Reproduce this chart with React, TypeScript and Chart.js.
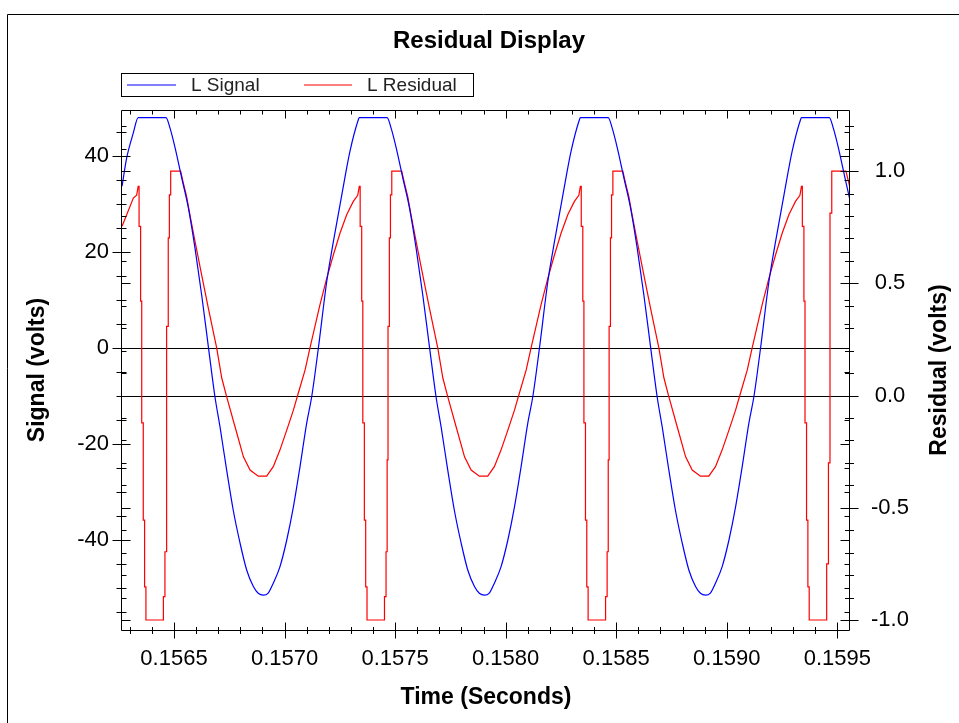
import { useEffect, useRef } from "react";
import { Chart, registerables } from "chart.js";

Chart.register(...registerables);

// ---- data (time offsets in microseconds from 0.1565 s) ----
const TIME_BASE = 0.1565;

const signalTimeUs = [
  -235, -214, -184, -162, -36, -18, 5, 35, 65, 95, 125, 155, 185, 208, 238, 268, 299, 329, 359, 381, 404, 427,
  449, 479, 510, 540, 570, 600, 623, 653, 691, 721, 759, 796, 834, 838, 964,
  982, 1005, 1035, 1065, 1095, 1125, 1155, 1185, 1208, 1238, 1268, 1299, 1329, 1359, 1381, 1404, 1427, 1449,
  1479, 1510, 1540, 1570, 1600, 1623, 1653, 1691, 1721, 1759, 1796, 1834, 1838, 1964,
  1982, 2005, 2035, 2065, 2095, 2125, 2155, 2185, 2208, 2238, 2268, 2299, 2329, 2359, 2381, 2404, 2427, 2449,
  2479, 2510, 2540, 2570, 2600, 2623, 2653, 2691, 2721, 2759, 2796, 2834, 2838, 2964,
  2982, 3005, 3035, 3065,
];

const signalVolts = [
  33.7, 39.6, 44.8, 48.0, 48.0, 45.8, 41.7, 35.4, 29.2, 20.8, 11.1, 0.4, -10.1, -16.4, -25.4, -33.8, -40.7, -46.3,
  -49.7, -51.1, -51.5, -51.0, -49.0, -45.6, -40.0, -33.1, -24.7, -15.7, -10.1, 0.0, 13.9, 22.2, 31.9, 41.0, 47.6,
  48.0, 48.0,
  45.8, 41.7, 35.4, 29.2, 20.8, 11.1, 0.4, -10.1, -16.4, -25.4, -33.8, -40.7, -46.3, -49.7, -51.1, -51.5, -51.0,
  -49.0, -45.6, -40.0, -33.1, -24.7, -15.7, -10.1, 0.0, 13.9, 22.2, 31.9, 41.0, 47.6, 48.0, 48.0,
  45.8, 41.7, 35.4, 29.2, 20.8, 11.1, 0.4, -10.1, -16.4, -25.4, -33.8, -40.7, -46.3, -49.7, -51.1, -51.5, -51.0,
  -49.0, -45.6, -40.0, -33.1, -24.7, -15.7, -10.1, 0.0, 13.9, 22.2, 31.9, 41.0, 47.6, 48.0, 48.0,
  45.8, 41.7, 35.4, 29.2,
];

const residualTimeUs = [
  -235, -214, -184, -169, -162, -158, -158, -151, -151, -146, -146, -139, -139, -133, -133, -127, -127, -48, -48,
  -41, -41, -36, -36, -32, -32, -26, -26, -21, -21, -15, -15, 30, 42, 57, 72, 95, 125, 155, 193, 216, 238, 276,
  314, 344, 381, 419, 449, 479, 510, 540, 562, 593, 615, 660, 691, 721, 751, 781, 811, 831, 838,
  842, 842, 849, 849, 854, 854, 861, 861, 867, 867, 873, 873, 952, 952, 959, 959, 964, 964, 968, 968, 974, 974,
  979, 979, 985, 985, 1030, 1042, 1057, 1072, 1095, 1125, 1155, 1193, 1216, 1238, 1276, 1314, 1344, 1381, 1419,
  1449, 1479, 1510, 1540, 1562, 1593, 1615, 1660, 1691, 1721, 1751, 1781, 1811, 1831, 1838,
  1842, 1842, 1849, 1849, 1854, 1854, 1861, 1861, 1867, 1867, 1873, 1873, 1952, 1952, 1959, 1959, 1964, 1964,
  1968, 1968, 1974, 1974, 1979, 1979, 1985, 1985, 2030, 2042, 2057, 2072, 2095, 2125, 2155, 2193, 2216, 2238,
  2276, 2314, 2344, 2381, 2419, 2449, 2479, 2510, 2540, 2562, 2593, 2615, 2660, 2691, 2721, 2751, 2781, 2811,
  2831, 2838,
  2842, 2842, 2849, 2849, 2854, 2854, 2861, 2861, 2867, 2867, 2873, 2873, 2952, 2952, 2960, 2960, 2967, 2967,
  2975, 2975, 3039, 3058, 3072,
];

const residualVolts = [
  0.754, 0.805, 0.88, 0.892, 0.932, 0.932, 0.754, 0.754, 0.421, 0.421, -0.122, -0.122, -0.555, -0.555, -0.852,
  -0.852, -1.0, -1.0, -0.896, -0.896, -0.696, -0.696, -0.287, -0.287, 0.308, 0.308, 0.702, 0.702, 0.894, 0.894,
  1.0, 1.0, 0.947, 0.887, 0.805, 0.687, 0.538, 0.39, 0.212, 0.078, -0.005, -0.139, -0.273, -0.332, -0.359,
  -0.359, -0.317, -0.243, -0.154, -0.065, 0.01, 0.114, 0.212, 0.404, 0.523, 0.627, 0.724, 0.805, 0.865, 0.892,
  0.932,
  0.932, 0.754, 0.754, 0.421, 0.421, -0.122, -0.122, -0.555, -0.555, -0.852, -0.852, -1.0, -1.0, -0.896, -0.896,
  -0.696, -0.696, -0.287, -0.287, 0.308, 0.308, 0.702, 0.702, 0.894, 0.894, 1.0, 1.0, 0.947, 0.887, 0.805,
  0.687, 0.538, 0.39, 0.212, 0.078, -0.005, -0.139, -0.273, -0.332, -0.359, -0.359, -0.317, -0.243, -0.154,
  -0.065, 0.01, 0.114, 0.212, 0.404, 0.523, 0.627, 0.724, 0.805, 0.865, 0.892, 0.932,
  0.932, 0.754, 0.754, 0.421, 0.421, -0.122, -0.122, -0.555, -0.555, -0.852, -0.852, -1.0, -1.0, -0.896, -0.896,
  -0.696, -0.696, -0.287, -0.287, 0.308, 0.308, 0.702, 0.702, 0.894, 0.894, 1.0, 1.0, 0.947, 0.887, 0.805,
  0.687, 0.538, 0.39, 0.212, 0.078, -0.005, -0.139, -0.273, -0.332, -0.359, -0.359, -0.317, -0.243, -0.154,
  -0.065, 0.01, 0.114, 0.212, 0.404, 0.523, 0.627, 0.724, 0.805, 0.865, 0.892, 0.932,
  0.932, 0.754, 0.754, 0.421, 0.421, -0.122, -0.122, -0.555, -0.555, -0.852, -0.852, -1.0, -1.0, -0.75, -0.75,
  -0.3, -0.3, 0.813, 0.813, 1.0, 1.0, 0.924, 0.887,
];

// ---- axes / ticks ----
const timeMin = 0.1562648;
const timeMax = 0.1595575;
const signalMin = -58.75;
const signalMax = 49.58;
const residualMin = -1.0445;
const residualMax = 1.272;

const timeTicks = [0.1565, 0.157, 0.1575, 0.158, 0.1585, 0.159, 0.1595];
const signalTicks = [-40, -20, 0, 20, 40];
const residualTicks = [-1.0, -0.5, 0.0, 0.5, 1.0];

const timeMinorStep = 0.0001;
const signalMinorStep = 5;
const residualMinorStep = 0.1;

const chartTitle = "Residual Display";
const xTitle = "Time (Seconds)";
const ySignalTitle = "Signal (volts)";
const yResidualTitle = "Residual (volts)";
const legendLabels = ["L Signal", "L Residual"];
const seriesColors = ["#0000ff", "#ff0000"];

const FONT = '"Liberation Sans", Arial, Helvetica, sans-serif';

function minorValues(min: number, max: number, step: number) {
  const out: number[] = [];
  const start = Math.ceil(min / step - 1e-9);
  const end = Math.floor(max / step + 1e-9);
  for (let i = start; i <= end; i++) out.push(+(i * step).toFixed(6));
  return out;
}

const decorPlugin = {
  id: "decor",
  beforeDatasetsDraw(chart: any) {
    const { ctx, chartArea: a, scales } = chart;
    ctx.save();
    ctx.strokeStyle = "#000";
    ctx.lineWidth = 1;
    const ys = Math.round(scales.ySignal.getPixelForValue(0)) + 0.5;
    const yr = Math.round(scales.yResidual.getPixelForValue(0)) + 0.5;
    ctx.beginPath();
    ctx.moveTo(a.left, ys);
    ctx.lineTo(a.right, ys);
    ctx.moveTo(a.left, yr);
    ctx.lineTo(a.right, yr);
    ctx.stroke();
    ctx.restore();
  },
  afterDraw(chart: any) {
    const { ctx, chartArea: a, scales } = chart;
    const L = a.left - 0.5;
    const R = a.right - 0.5;
    const T = a.top + 0.5;
    const B = a.bottom + 0.5;
    ctx.save();
    ctx.strokeStyle = "#000";
    ctx.lineWidth = 1;

    // outer frame
    ctx.beginPath();
    ctx.moveTo(7.5, 723);
    ctx.lineTo(7.5, 14.5);
    ctx.lineTo(959, 14.5);
    ctx.stroke();

    // plot box
    ctx.beginPath();
    ctx.moveTo(L, T);
    ctx.lineTo(R, T);
    ctx.lineTo(R, B);
    ctx.lineTo(L, B);
    ctx.closePath();
    ctx.stroke();

    ctx.beginPath();
    // x ticks (bottom crossing, top inward)
    for (const v of minorValues(timeMin, timeMax, timeMinorStep)) {
      const x = Math.round(scales.x.getPixelForValue(v)) + 0.5;
      const major = timeTicks.some((t) => Math.abs(t - v) < 1e-9);
      const h = major ? 8 : 3.5;
      ctx.moveTo(x, B - h);
      ctx.lineTo(x, B + h);
      ctx.moveTo(x, T);
      ctx.lineTo(x, T + (major ? 8 : 4));
    }
    // signal ticks (left crossing, right inward)
    for (const v of minorValues(signalMin, signalMax, signalMinorStep)) {
      const y = Math.round(scales.ySignal.getPixelForValue(v)) + 0.5;
      const major = signalTicks.includes(v);
      const w = major ? 9 : 5;
      ctx.moveTo(L - w, y);
      ctx.lineTo(L + w, y);
      ctx.moveTo(R, y);
      ctx.lineTo(R - (major ? 9 : 5), y);
    }
    // residual ticks (right crossing, left inward)
    for (const v of minorValues(residualMin, residualMax, residualMinorStep)) {
      const y = Math.round(scales.yResidual.getPixelForValue(v)) + 0.5;
      const major = residualTicks.some((t) => Math.abs(t - v) < 1e-9);
      const w = major ? 9 : 4.5;
      ctx.moveTo(R - w, y);
      ctx.lineTo(R + w, y);
      ctx.moveTo(L, y);
      ctx.lineTo(L + (major ? 9 : 5), y);
    }
    ctx.stroke();

    // chart title
    ctx.fillStyle = "#000";
    ctx.font = `bold 24px ${FONT}`;
    ctx.textAlign = "center";
    ctx.textBaseline = "middle";
    ctx.fillText(chartTitle, 489, 41);

    // right axis title (reads bottom to top, like the left one)
    ctx.font = `bold 23px ${FONT}`;
    ctx.save();
    ctx.translate(940, (a.top + a.bottom) / 2);
    ctx.rotate(-Math.PI / 2);
    ctx.fillText(yResidualTitle, 0, 0);
    ctx.restore();

    // legend
    ctx.strokeStyle = "#000";
    ctx.strokeRect(121.5, 73.5, 352, 23);
    ctx.font = `19px ${FONT}`;
    ctx.textAlign = "left";
    ctx.fillStyle = "#222";
    const items = [
      { x1: 127, x2: 176, tx: 191 },
      { x1: 304, x2: 352, tx: 367 },
    ];
    items.forEach((it, i) => {
      ctx.strokeStyle = seriesColors[i];
      ctx.lineWidth = 1.2;
      ctx.beginPath();
      ctx.moveTo(it.x1, 85);
      ctx.lineTo(it.x2, 85);
      ctx.stroke();
      ctx.fillText(legendLabels[i], it.tx, 86);
    });
    ctx.restore();
  },
};

export default function App() {
  const ref = useRef<HTMLCanvasElement>(null);

  useEffect(() => {
    if (!ref.current) return;
    const signalData = signalTimeUs.map((d, i) => ({ x: TIME_BASE + d * 1e-6, y: signalVolts[i] }));
    const residualData = residualTimeUs.map((d, i) => ({ x: TIME_BASE + d * 1e-6, y: residualVolts[i] }));

    const tickFont = { family: FONT, size: 22 };
    const titleFont = { family: FONT, size: 23, weight: "bold" as const };

    const chart = new Chart(ref.current, {
      type: "line",
      data: {
        datasets: [
          {
            label: legendLabels[0],
            data: signalData,
            borderColor: seriesColors[0],
            borderWidth: 1.2,
            pointRadius: 0,
            cubicInterpolationMode: "monotone",
            yAxisID: "ySignal",
          },
          {
            label: legendLabels[1],
            data: residualData,
            borderColor: seriesColors[1],
            borderWidth: 1.2,
            pointRadius: 0,
            tension: 0,
            yAxisID: "yResidual",
          },
        ],
      },
      options: {
        animation: false,
        responsive: false,
        devicePixelRatio: 1,
        events: [],
        layout: { padding: { top: 110, left: 0, right: 0, bottom: 0 } },
        plugins: {
          legend: { display: false },
          title: { display: false },
          tooltip: { enabled: false },
        },
        scales: {
          x: {
            type: "linear",
            position: "bottom",
            min: timeMin,
            max: timeMax,
            grid: { display: false, drawTicks: false },
            border: { display: false },
            afterBuildTicks: (s: any) => {
              s.ticks = timeTicks.map((value) => ({ value }));
            },
            afterFit: (s: any) => {
              s.height = 93;
            },
            ticks: {
              font: tickFont,
              color: "#000",
              padding: 16,
              autoSkip: false,
              maxRotation: 0,
              minRotation: 0,
              callback: (v: any) => Number(v).toFixed(4),
            },
            title: {
              display: true,
              text: xTitle,
              font: titleFont,
              color: "#000",
              padding: { top: 0, bottom: 12 },
            },
          },
          ySignal: {
            type: "linear",
            position: "left",
            min: signalMin,
            max: signalMax,
            grid: { display: false, drawTicks: false },
            border: { display: false },
            afterBuildTicks: (s: any) => {
              s.ticks = signalTicks.map((value) => ({ value }));
            },
            afterFit: (s: any) => {
              s.width = 122;
            },
            ticks: {
              font: tickFont,
              color: "#000",
              padding: 13,
              callback: (v: any) => String(v),
            },
            title: {
              display: true,
              text: ySignalTitle,
              font: titleFont,
              color: "#000",
              padding: { top: 24, bottom: 0 },
            },
          },
          yResidual: {
            type: "linear",
            position: "right",
            min: residualMin,
            max: residualMax,
            grid: { display: false, drawTicks: false },
            border: { display: false },
            afterBuildTicks: (s: any) => {
              s.ticks = residualTicks.map((value) => ({ value }));
            },
            afterFit: (s: any) => {
              s.width = 109;
            },
            ticks: {
              font: tickFont,
              color: "#000",
              padding: 21,
              crossAlign: "center",
              callback: (v: any) => Number(v).toFixed(1),
            },
            title: { display: false },
          },
        },
      },
      plugins: [decorPlugin],
    } as any);

    return () => chart.destroy();
  }, []);

  return (
    <div style={{ position: "fixed", left: 0, top: 0, width: 959, height: 723, background: "#fff" }}>
      <canvas ref={ref} width={959} height={723} style={{ display: "block", width: 959, height: 723 }} />
    </div>
  );
}
